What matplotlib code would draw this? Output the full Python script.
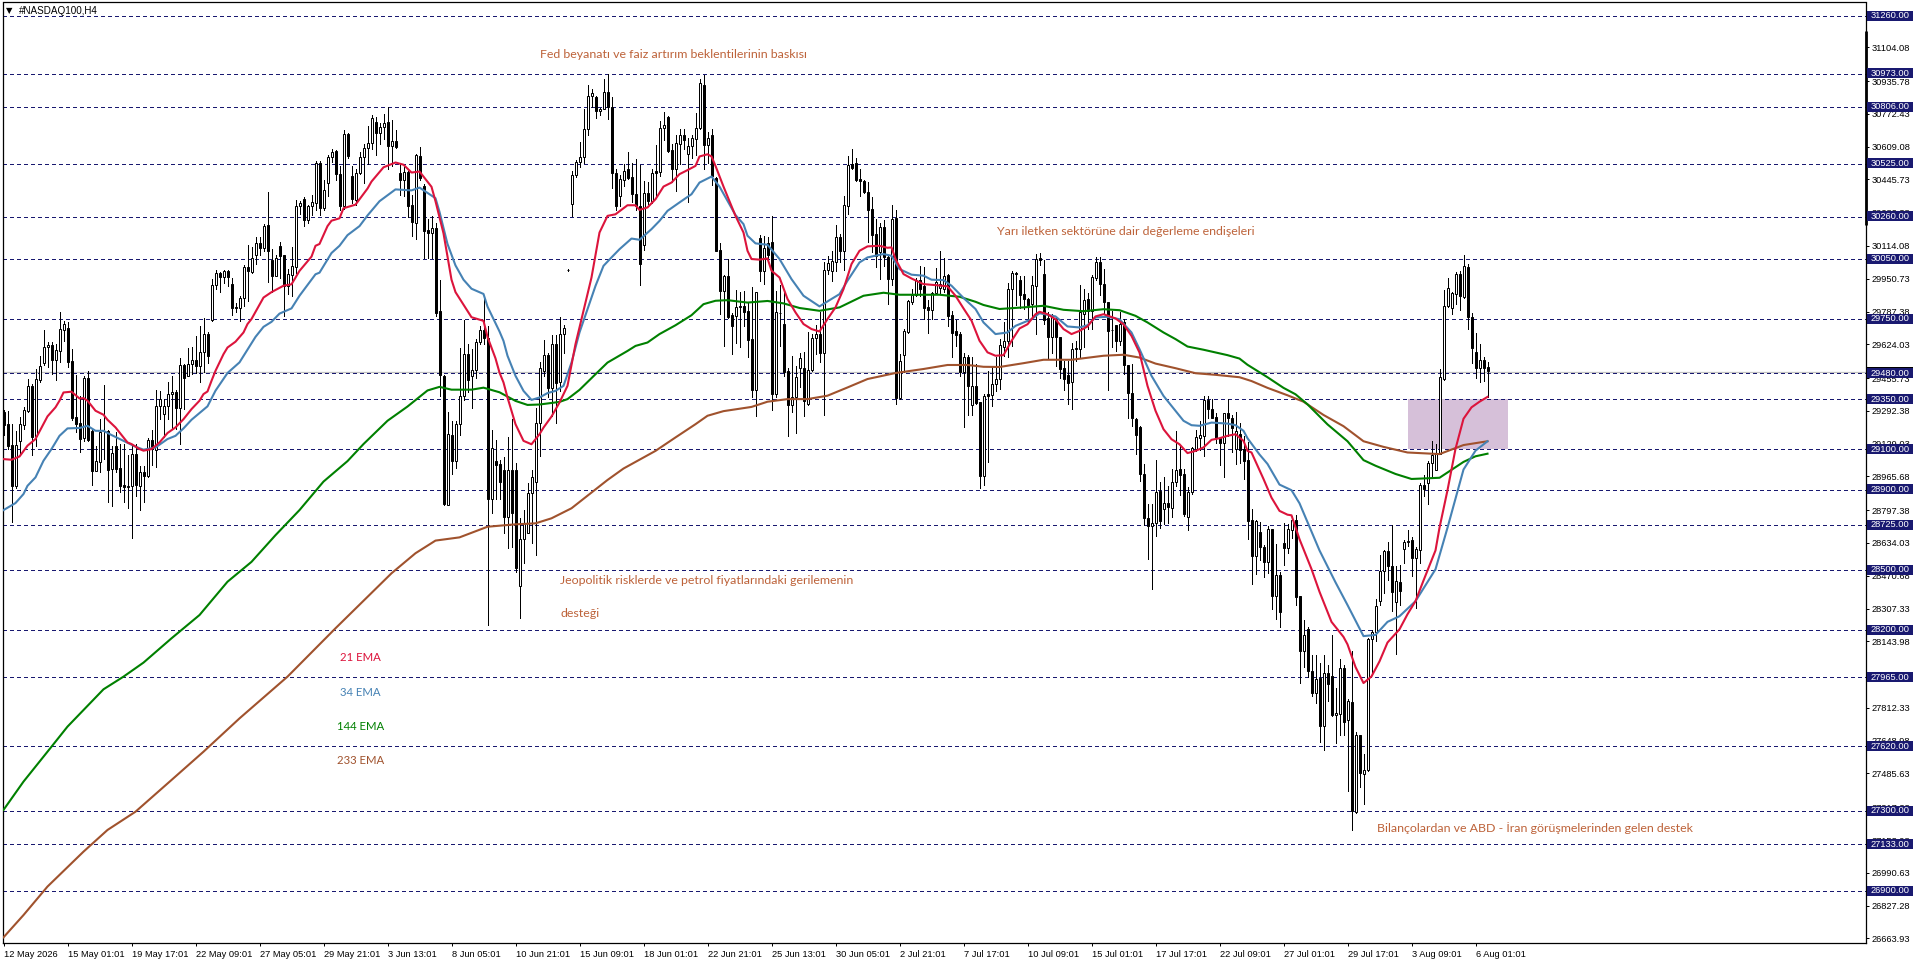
import matplotlib
matplotlib.use('Agg')
import matplotlib.pyplot as plt
from matplotlib.patches import Rectangle

# H4 candles
opens = [
    29285, 29227, 29122, 28919, 29143, 29223, 29293, 29418, 29165, 29446, 29530, 29609, 29620, 29547, 29592, 29697,
    29703, 29539, 29260, 29232, 29155, 29454, 29193, 28994, 29039, 29190, 29193, 29002, 29115, 29006, 28921, 28914,
    28916, 29075, 28919, 28986, 28969, 29145, 29099, 29315, 29275, 29318, 29374, 29384, 29305, 29521, 29467, 29527,
    29547, 29517, 29587, 29673, 29746, 29922, 29977, 29957, 29987, 29927, 29808, 29803, 29853, 30007,
    29985, 30070, 30129, 30106, 30218, 30044, 29964, 30113, 30067, 29916, 29969, 30008, 30311, 30346, 30245, 30311,
    30328, 30528, 30305, 30426, 30555, 30587, 30471, 30311, 30672, 30462, 30341, 30480, 30555, 30601, 30626, 30734,
    30679, 30708, 30733, 30610, 30635, 30476, 30444, 30485, 30316, 30231, 30563, 30412, 30193, 30181, 30204, 29789,
    29465, 28824, 29171, 29043, 29225, 29367, 29576, 29465, 29497, 29634, 29697, 29657, 28851, 29045, 29029,
    28998, 28762, 28998, 28998, 28421, 28652, 28686, 28882, 28940, 29234, 29492, 29570, 29405, 29625, 29434, 29675,
    29993, 30324, 30467, 30533, 30555, 30699, 30859, 30855, 30787, 30799, 30879, 30809, 30480, 30361, 30444, 30497,
    30457, 30375, 30314, 30120, 30380, 30339, 30487, 30483, 30703, 30759, 30591, 30497, 30621, 30668, 30571, 30610,
    30646, 30704, 30915, 30616, 30666, 30455, 30095, 29890, 29962, 29769, 29766, 29809, 29816, 29789,
    29650, 29398, 30154, 29991, 30129, 30132, 29376, 29780, 29725, 29492, 29321, 29360, 29504, 29507, 29326, 29497,
    29654, 29675, 29579, 29996, 29991, 30036, 30157, 30090, 30315, 30522, 30527, 30448, 30439, 30384, 30298, 30173,
    30082, 30207, 30057, 29949, 30253, 29355, 29572, 29685, 29833, 29869, 29944, 29916, 29808, 29795, 29879, 29903,
    29899, 29969, 29770, 29692, 29675, 29487, 29559, 29323, 29414, 29335, 28969, 29375, 29373, 29426, 29451,
    29613, 29641, 29902, 29979, 29945, 29874, 29852, 29824, 29915, 30052, 29974, 29753, 29661, 29749, 29658, 29504,
    29472, 29434, 29600, 29600, 29774, 29849, 29791, 29952, 30035, 29924, 29836, 29695, 29719, 29641, 29733, 29520,
    29379, 29254, 29210, 28977, 28761, 28720, 28736, 28891, 28803, 28831, 28809, 28940, 29002, 28977, 28766, 28886,
    29102, 29158, 29168, 29347, 29301, 29264, 29156, 29131, 29281, 29259, 29102, 29176, 29102, 29047,
    28747, 28569, 28691, 28616, 28537, 28706, 28369, 28475, 28635, 28607, 28700, 28747, 28369, 28095, 28207, 27997,
    27889, 27960, 27720, 27988, 27973, 27776, 27782, 28012, 27750, 27842, 27294, 27679, 27484, 27503, 28157, 28189,
    28344, 28494, 28592, 28519, 28339, 28442, 28603, 28639, 28648, 28560, 28601, 28925, 28935, 29032, 29000, 29079,
    29450, 29816, 29806, 29876, 29975, 29859, 30007, 29760, 29587, 29508, 29546, 29512,
]
closes = [
    29222, 29119, 28919, 29122, 29227, 29295, 29414, 29160, 29451, 29514, 29609, 29619, 29547, 29595, 29700, 29725,
    29537, 29256, 29227, 29152, 29454, 29148, 28994, 29042, 29185, 29193, 28999, 29082, 29002, 28919, 28914, 28918,
    29075, 28923, 28986, 28969, 29145, 29102, 29315, 29354, 29318, 29374, 29384, 29305, 29521, 29454, 29524, 29544,
    29517, 29584, 29673, 29564, 29922, 29977, 29957, 29987, 29961, 29806, 29803, 29853, 30007, 29987,
    30056, 30127, 30106, 30216, 30088, 29964, 30053, 30065, 29916, 29972, 30012, 30311, 30327, 30245, 30311, 30332,
    30528, 30305, 30394, 30555, 30583, 30471, 30311, 30670, 30560, 30346, 30480, 30555, 30601, 30626, 30752, 30679,
    30708, 30729, 30610, 30635, 30608, 30444, 30483, 30314, 30234, 30565, 30453, 30190, 30181, 30202, 29782, 29469,
    28828, 29177, 29042, 29225, 29367, 29576, 29444, 29497, 29634, 29693, 29657, 28851, 29106, 29024, 28940,
    28765, 28998, 28782, 28508, 28652, 28735, 28882, 28965, 29231, 29508, 29570, 29405, 29625, 29430, 29675, 29703,
    29992, 30470, 30533, 30555, 30699, 30859, 30874, 30787, 30799, 30879, 30809, 30480, 30314, 30447, 30490, 30454,
    30372, 30311, 30025, 30380, 30337, 30480, 30477, 30704, 30716, 30588, 30497, 30626, 30666, 30643, 30610, 30650,
    30704, 30925, 30616, 30650, 30463, 30091, 29890, 29962, 29761, 29713, 29812, 29816, 29786, 29646,
    29398, 29883, 29991, 30102, 30069, 29376, 29783, 29780, 29487, 29321, 29360, 29459, 29554, 29340, 29497, 29654,
    29673, 29579, 29996, 30027, 30037, 30157, 30090, 30318, 30519, 30502, 30444, 30439, 30384, 30295, 30168, 30062,
    30207, 30057, 29949, 30248, 29355, 29541, 29688, 29840, 29869, 29944, 29899, 29805, 29795, 29879, 29933, 29924,
    29962, 29766, 29680, 29670, 29487, 29559, 29418, 29414, 29331, 28969, 29368, 29368, 29424, 29451, 29620,
    29643, 29902, 29977, 29972, 29871, 29849, 29821, 29919, 30048, 30045, 29746, 29661, 29763, 29658, 29500, 29450,
    29430, 29600, 29605, 29783, 29846, 29791, 29957, 30035, 29924, 29836, 29691, 29695, 29641, 29724, 29520, 29379,
    29256, 29173, 28977, 28761, 28720, 28734, 28886, 28744, 28831, 28814, 28940, 28997, 28974, 28778, 28886, 29105,
    29160, 29171, 29347, 29301, 29259, 29156, 29131, 29281, 29256, 29205, 29193, 29098, 29043, 28744,
    28569, 28744, 28612, 28537, 28704, 28372, 28475, 28288, 28607, 28704, 28747, 28363, 28095, 28176, 27997, 27889,
    27954, 27720, 27988, 27932, 27778, 27787, 28012, 27744, 27847, 27300, 27679, 27486, 27503, 28157, 28189, 28322,
    28494, 28592, 28519, 28391, 28444, 28395, 28639, 28642, 28560, 28605, 28925, 28903, 29034, 29070, 29079, 29460,
    29816, 29906, 29881, 29975, 29863, 30013, 29760, 29606, 29508, 29548, 29508, 29493,
]
highs = [
    29296, 29293, 29227, 29193, 29260, 29310, 29451, 29426, 29501, 29567, 29695, 29637, 29637, 29625, 29783, 29741,
    29733, 29600, 29471, 29368, 29464, 29489, 29202, 29119, 29251, 29421, 29197, 29119, 29185, 29127, 29127, 29072,
    29127, 29127, 29019, 29016, 29155, 29197, 29396, 29393, 29351, 29437, 29464, 29396, 29554, 29526, 29604, 29609,
    29667, 29713, 29753, 29687, 29949, 29992, 29986, 29994, 29992, 29952, 29829, 29866, 30019, 30118,
    30110, 30159, 30159, 30222, 30382, 30097, 30070, 30136, 30070, 29999, 30111, 30341, 30337, 30359, 30320, 30369,
    30537, 30537, 30444, 30569, 30595, 30590, 30515, 30693, 30679, 30515, 30498, 30583, 30622, 30711, 30765, 30756,
    30729, 30773, 30809, 30741, 30693, 30524, 30506, 30489, 30369, 30572, 30608, 30423, 30248, 30263, 30231, 29942,
    29469, 29287, 29243, 29243, 29604, 29745, 29625, 29599, 29652, 29714, 29848, 29714, 29198, 29145, 29047,
    29064, 29160, 29251, 29031, 28757, 28799, 28931, 28998, 29305, 29537, 29646, 29583, 29670, 29670, 29758, 29719,
    29997, 30488, 30543, 30630, 30799, 30915, 30895, 30862, 30804, 30945, 30973, 30854, 30497, 30467, 30522, 30583,
    30527, 30547, 30517, 30439, 30434, 30500, 30616, 30738, 30784, 30762, 30621, 30666, 30696, 30699, 30654, 30666,
    30779, 30948, 30965, 30683, 30699, 30460, 30131, 29969, 30048, 29782, 29895, 29885, 29890, 29836,
    29908, 29886, 30168, 30165, 30157, 30261, 29891, 29919, 29896, 29504, 29564, 29517, 29580, 29587, 29683, 29675,
    29720, 29783, 30036, 30065, 30090, 30218, 30173, 30364, 30560, 30597, 30550, 30497, 30444, 30434, 30356, 30248,
    30228, 30243, 30065, 30320, 30293, 29575, 29700, 29846, 29899, 29953, 30016, 30007, 29846, 29886, 30002, 30090,
    30052, 29974, 29791, 29747, 29687, 29580, 29570, 29559, 29526, 29335, 29376, 29492, 29514, 29559, 29650,
    29736, 29932, 29990, 29985, 29962, 29962, 29857, 29965, 30073, 30078, 30045, 29783, 29774, 29758, 29658, 29542,
    29542, 29633, 29641, 29920, 29899, 29879, 29969, 30057, 30057, 29999, 29836, 29791, 29719, 29783, 29749, 29520,
    29525, 29259, 29218, 29027, 28828, 28828, 29047, 28939, 28965, 28919, 29002, 29190, 29122, 29002, 28911, 29110,
    29196, 29243, 29364, 29364, 29351, 29284, 29160, 29284, 29351, 29271, 29288, 29231, 29168, 29135,
    28804, 28751, 28738, 28625, 28719, 28706, 28631, 28489, 28732, 28729, 28770, 28775, 28372, 28251, 28213, 28076,
    28076, 28035, 28076, 28026, 28176, 27913, 28054, 28026, 27857, 28095, 27694, 27679, 27585, 28161, 28200, 28354,
    28575, 28597, 28639, 28725, 28519, 28522, 28650, 28700, 28663, 28616, 28931, 28972, 29043, 29141, 29126, 29501,
    29896, 29953, 29887, 29985, 29988, 30071, 30026, 29778, 29679, 29625, 29563, 29535,
]
lows = [
    29172, 29102, 28740, 28909, 29072, 29202, 29285, 29072, 29119, 29437, 29522, 29509, 29476, 29446, 29534, 29642,
    29512, 29246, 29185, 29089, 29143, 29143, 28923, 28994, 28989, 29052, 28840, 28816, 28989, 28886, 28840, 28806,
    28660, 28869, 28800, 28840, 28961, 29022, 29011, 29251, 29160, 29251, 29202, 29202, 29127, 29301, 29467, 29476,
    29481, 29437, 29484, 29530, 29741, 29899, 29886, 29932, 29913, 29770, 29783, 29741, 29813, 29841,
    29981, 30026, 30070, 30088, 29933, 29883, 29964, 29955, 29764, 29875, 29866, 29981, 30275, 30213, 30227, 30266,
    30293, 30270, 30293, 30361, 30530, 30444, 30293, 30298, 30551, 30328, 30320, 30471, 30426, 30524, 30595, 30569,
    30622, 30649, 30498, 30515, 30604, 30369, 30364, 30257, 30163, 30150, 30444, 30053, 30053, 30053, 29764, 29367,
    28821, 28824, 28976, 29006, 29171, 29349, 29385, 29305, 29456, 29625, 29625, 28225, 28785, 28851, 28851,
    28682, 28607, 28616, 28491, 28262, 28533, 28686, 28632, 28574, 29068, 29467, 29359, 29268, 29234, 29392, 29583,
    29990, 30261, 30460, 30510, 30527, 30669, 30809, 30751, 30766, 30796, 30746, 30402, 30294, 30314, 30414, 30450,
    30331, 30294, 29920, 30095, 30322, 30327, 30351, 30463, 30643, 30580, 30434, 30389, 30522, 30596, 30334, 30550,
    30566, 30696, 30500, 30527, 30417, 30091, 29774, 29616, 29753, 29575, 29633, 29613, 29716, 29563,
    29360, 29265, 29941, 29924, 30049, 29298, 29360, 29617, 29464, 29165, 29285, 29182, 29409, 29268, 29321, 29492,
    29575, 29534, 29273, 29974, 29941, 29991, 30032, 29996, 30273, 30497, 30440, 30364, 30380, 30132, 30082, 30007,
    29949, 30012, 29825, 29919, 29326, 29350, 29484, 29682, 29825, 29866, 29866, 29750, 29680, 29750, 29875, 29874,
    29885, 29717, 29559, 29617, 29467, 29210, 29272, 29272, 29326, 28909, 28923, 29036, 29318, 29393, 29401,
    29567, 29563, 29616, 29819, 29807, 29799, 29736, 29766, 29675, 30018, 29724, 29550, 29580, 29517, 29454, 29397,
    29326, 29301, 29542, 29563, 29613, 29700, 29700, 29945, 29869, 29774, 29397, 29613, 29592, 29620, 29475, 29256,
    29218, 29077, 28944, 28723, 28553, 28404, 28670, 28711, 28728, 28736, 28766, 28919, 28872, 28769, 28700, 28880,
    29093, 29098, 29065, 29259, 29255, 29131, 29022, 28962, 29168, 29085, 29027, 29032, 28952, 28656,
    28429, 28481, 28550, 28466, 28485, 28307, 28254, 28213, 28522, 28582, 28657, 28326, 27937, 28016, 27964, 27870,
    27838, 27641, 27604, 27847, 27772, 27638, 27679, 27679, 27398, 27205, 27290, 27420, 27332, 27500, 27988, 28144,
    28326, 28387, 28451, 28294, 28082, 28326, 28535, 28620, 28470, 28312, 28532, 28869, 28826, 28957, 29000, 29075,
    29445, 29810, 29775, 29825, 29793, 29855, 29700, 29531, 29456, 29437, 29441, 29362,
]

# moving averages, picked along each curve: bar number and price
ema21_bars = [0, 2, 4, 6, 8, 10, 11, 13, 14, 15, 17, 19, 20, 21, 23, 25, 26, 28, 30, 31, 32, 34, 35, 37, 39, 41, 43, 45, 47, 49, 50, 51, 52, 53, 55, 56, 58, 60, 61,
              62, 63, 65, 67, 70, 72, 74, 77, 78, 79, 81, 82, 84, 85, 88, 91, 92, 95, 98, 100, 102, 104, 107, 108, 110, 112, 113, 115, 117, 120, 121, 123, 124,
              125, 126, 128, 130, 132, 134, 135, 137, 139, 141, 143, 145, 147, 149, 151, 153, 156, 158, 159, 161, 163, 165, 167, 169, 171, 173, 174, 176, 177, 178, 180, 183, 185, 186,
              187, 189, 191, 192, 194, 196, 198, 200, 202, 204, 206, 208, 210, 212, 214, 216, 219, 221, 222, 223, 225, 227, 230, 233, 236, 238, 240, 242, 244, 246, 248,
              250, 252, 254, 256, 258, 259, 261, 263, 265, 267, 269, 271, 273, 275, 278, 280, 282, 284, 286, 288, 290, 292, 294, 296, 298, 300, 302, 304, 306, 308, 310, 311,
              312, 315, 317, 319, 321, 322, 324, 327, 329, 332, 335, 336, 338, 340, 342, 344, 346, 349, 351, 353, 355, 358, 359, 361, 363, 365, 367, 369, 371]
ema21_vals = [29052, 29049, 29065, 29119, 29152, 29227, 29265, 29310, 29343, 29384, 29388, 29354, 29356, 29343, 29293, 29273, 29248, 29210, 29160, 29135, 29127, 29102, 29094, 29102, 29135, 29182, 29210, 29251, 29301, 29343, 29376, 29389, 29442, 29492, 29575, 29608, 29637, 29683, 29725,
              29750, 29786, 29857, 29884, 29916, 29923, 29990, 30061, 30115, 30124, 30213, 30240, 30252, 30302, 30320, 30400, 30435, 30506, 30530, 30519, 30480, 30485, 30409, 30337, 30177, 29946, 29884, 29821, 29759, 29741, 29661, 29554, 29483,
              29434, 29359, 29226, 29143, 29126, 29176, 29209, 29264, 29334, 29417, 29625, 29791, 29957, 30181, 30264, 30272, 30317, 30317, 30294, 30306, 30347, 30410, 30430, 30472, 30492, 30513, 30560, 30571, 30560, 30513, 30410, 30264, 30181, 30090,
              30049, 30046, 30052, 29991, 29957, 29850, 29783, 29725, 29700, 29688, 29750, 29808, 29899, 30024, 30090, 30112, 30115, 30105, 30107, 30049, 29974, 29952, 29924, 29919, 29913, 29866, 29803, 29742, 29642, 29584, 29567,
              29570, 29641, 29703, 29724, 29774, 29786, 29774, 29749, 29700, 29675, 29691, 29713, 29763, 29774, 29753, 29724, 29666, 29583, 29417, 29293, 29201, 29151, 29126, 29082, 29093, 29110, 29148, 29156, 29168, 29176, 29143, 29093,
              29085, 28953, 28860, 28794, 28775, 28772, 28653, 28504, 28391, 28241, 28166, 28129, 28016, 27936, 27969, 28044, 28138, 28204, 28279, 28344, 28447, 28597, 28710, 28897, 29103, 29253, 29310, 29338, 29362]

ema34_bars = [0, 3, 5, 6, 8, 10, 12, 14, 16, 19, 21, 23, 25, 27, 30, 33, 35, 38, 41, 43, 45, 47, 50, 51, 53, 56, 59, 61,
              63, 65, 67, 69, 72, 74, 78, 79, 82, 84, 86, 89, 91, 94, 98, 102, 104, 108, 109, 111, 113, 115, 117, 120, 121, 124,
              125, 126, 128, 130, 132, 134, 136, 138, 140, 142, 144, 146, 148, 150, 152, 154, 157, 159, 162, 164, 166, 169, 172, 174, 177, 179, 181, 183, 185, 186,
              188, 191, 194, 197, 200, 204, 207, 209, 211, 214, 216, 220, 222, 224, 227, 230, 232, 235, 237, 240, 243, 245, 248,
              251, 253, 257, 259, 263, 266, 269, 271, 273, 276, 279, 282, 284, 287, 290, 293, 295, 297, 299, 302, 306, 308, 310, 311,
              314, 316, 319, 322, 324, 329, 333, 336, 340, 343, 346, 349, 353, 358, 361, 365, 368, 371]
ema34_vals = [28798, 28833, 28878, 28919, 28961, 29044, 29102, 29168, 29205, 29207, 29218, 29193, 29193, 29172, 29143, 29114, 29099, 29110, 29152, 29168, 29205, 29248, 29298, 29315, 29393, 29481, 29534, 29597,
              29661, 29711, 29736, 29777, 29803, 29866, 29973, 29981, 30079, 30115, 30168, 30213, 30266, 30337, 30396, 30391, 30405, 30352, 30284, 30124, 30017, 29946, 29901, 29875, 29812, 29688,
              29641, 29567, 29467, 29392, 29347, 29359, 29381, 29392, 29417, 29533, 29683, 29799, 29915, 30015, 30057, 30098, 30151, 30145, 30198, 30239, 30289, 30331, 30372, 30430, 30460, 30410, 30339, 30268, 30223, 30165,
              30127, 30120, 30049, 29949, 29866, 29813, 29850, 29874, 29941, 30032, 30057, 30074, 30065, 29999, 29971, 29966, 29946, 29944, 29916, 29855, 29800, 29733, 29675,
              29683, 29716, 29749, 29779, 29763, 29713, 29708, 29719, 29758, 29761, 29749, 29683, 29600, 29467, 29367, 29293, 29243, 29221, 29218, 29234, 29229, 29221, 29193, 29156,
              29075, 29028, 28925, 28897, 28832, 28597, 28438, 28325, 28170, 28176, 28241, 28269, 28344, 28503, 28710, 29000, 29094, 29141]

ema144_bars = [0, 5, 12, 16, 25, 30, 35, 42, 49, 56, 62, 68, 74, 80, 86, 90, 96, 101, 106, 109, 112, 117, 120, 124,
               128, 131, 134, 139, 141, 144, 148, 151, 156, 158, 161, 164, 168, 172, 175, 178, 181, 186,
               191, 195, 199, 204, 209, 215, 220, 224, 234, 239, 243, 245, 249,
               255, 260, 265, 270, 275, 279, 283, 286, 290, 293, 296, 300, 306, 309, 311,
               316, 320, 323, 326, 331, 336, 340, 343, 348, 352, 359, 365, 368, 371]
ema144_vals = [27304, 27445, 27619, 27719, 27905, 27968, 28038, 28159, 28275, 28441, 28540, 28673, 28798, 28940, 29042, 29127, 29243, 29314, 29394, 29412, 29398, 29398, 29408, 29385,
               29342, 29322, 29324, 29337, 29351, 29397, 29475, 29533, 29591, 29616, 29633, 29675, 29719, 29769, 29824, 29841, 29844, 29832,
               29840, 29828, 29805, 29791, 29808, 29866, 29881, 29871, 29871, 29861, 29836, 29820, 29800,
               29808, 29816, 29796, 29789, 29799, 29794, 29766, 29733, 29683, 29650, 29613, 29597, 29570, 29553, 29522,
               29460, 29407, 29375, 29325, 29225, 29141, 29047, 29019, 28978, 28953, 28959, 29038, 29066, 29079]

ema233_bars = [0, 5, 11, 20, 26, 33, 42, 50, 59, 71, 83, 97, 103, 108, 114, 121, 128, 133, 137, 142, 151,
               155, 160, 163, 168, 173, 176, 180, 187,
               191, 196, 201, 206, 211, 216, 223, 230, 236, 241, 245, 249,
               255, 260, 267, 275, 280, 284, 288, 293, 298, 303, 309, 312,
               316, 321, 325, 330, 335, 340, 345, 351, 359, 365, 371]
ema233_vals = [26669, 26780, 26922, 27096, 27204, 27295, 27453, 27594, 27760, 27968, 28209, 28483, 28583, 28646, 28662, 28715, 28727, 28732, 28757, 28807, 28948,
               29005, 29060, 29093, 29160, 29226, 29268, 29291, 29312,
               29338, 29351, 29351, 29368, 29409, 29451, 29481, 29501, 29521, 29521, 29512, 29511,
               29530, 29547, 29547, 29567, 29572, 29558, 29528, 29505, 29480, 29472, 29460, 29441,
               29407, 29370, 29338, 29272, 29216, 29141, 29113, 29085, 29077, 29122, 29141]

# horizontal levels drawn by the analyst, also shown as boxes on the price scale
levels = [31260, 30973, 30806, 30525, 30260, 30050, 29750, 29480, 29350, 29100, 28900, 28725, 28500, 28200, 27965, 27620, 27300, 27133, 26900]
bid_price = 29488

price_ticks = [31104.08, 30935.78, 30772.43, 30609.08, 30445.73, 30282.38, 30114.08, 29950.73, 29787.38, 29624.03, 29455.73, 29292.38, 29129.03, 28965.68,
               28797.38, 28634.03, 28470.68, 28307.33, 28143.98, 27980.63, 27812.33, 27648.98, 27485.63, 27317.33, 27153.98, 26990.63, 26827.28, 26663.93]
time_labels = ['12 May 2026', '15 May 01:01', '19 May 17:01', '22 May 09:01', '27 May 05:01', '29 May 21:01', '3 Jun 13:01', '8 Jun 05:01',
               '10 Jun 21:01', '15 Jun 09:01', '18 Jun 01:01', '22 Jun 21:01', '25 Jun 13:01', '30 Jun 05:01', '2 Jul 21:01', '7 Jul 17:01',
               '10 Jul 09:01', '15 Jul 01:01', '17 Jul 17:01', '22 Jul 09:01', '27 Jul 01:01', '29 Jul 17:01', '3 Aug 09:01', '6 Aug 01:01']

NAVY = '#191970'
NOTE = '#bd6239'
EMA_COLORS = {'21': '#dc143c', '34': '#4682b4', '144': '#008000', '233': '#a0522d'}
SCALE_FONT = 'Liberation Sans'
SCALE_SIZE = 6.7
NOTE_FONT = 'Lato'
NOTE_SIZE = 8.95

plt.rcParams['lines.scale_dashes'] = False

W, H = 1916, 963
L, R, T, B = 2.5, 1865.5, 2.5, 942.5
fig = plt.figure(figsize=(W / 100, H / 100), dpi=100, facecolor='white')
ax = fig.add_axes([L / W, (H - B) / H, (R - L) / W, (B - T) / H])

# one bar is 4 pixels wide, one pixel is 4.983 points
ax.set_xlim((L - 3.5) / 4, (R - 3.5) / 4)
ax.set_ylim(31260 - (B - 16) * 4.983, 31260 + (16 - T) * 4.983)

trans = ax.get_yaxis_transform()

# buy zone
ax.add_patch(Rectangle((351, 29100), 25, 250, facecolor='#d6c0d9', edgecolor='none', zorder=1))

for lv in levels:
    ax.axhline(lv, color=NAVY, lw=0.72, ls=(0, (2.16, 2.16)), antialiased=False, zorder=2)
ax.axhline(bid_price, color='#c0c0c0', lw=0.9, zorder=1.5)

# candles
bars = list(range(len(opens)))
ax.vlines(bars, lows, highs, color='black', lw=0.72, antialiased=False, zorder=3)
for i in bars:
    up = closes[i] >= opens[i]
    ax.bar(i, abs(closes[i] - opens[i]), bottom=min(opens[i], closes[i]), width=0.5,
           facecolor='white' if up else 'black', edgecolor='black', linewidth=0.72, zorder=4)

ax.plot(ema233_bars, ema233_vals, color=EMA_COLORS['233'], lw=1.5, zorder=5)
ax.plot(ema144_bars, ema144_vals, color=EMA_COLORS['144'], lw=1.5, zorder=5)
ax.plot(ema34_bars, ema34_vals, color=EMA_COLORS['34'], lw=1.5, zorder=5)
ax.plot(ema21_bars, ema21_vals, color=EMA_COLORS['21'], lw=1.5, zorder=5)

# notes on the chart
ax.text(134, 31066, 'Fed beyanatı ve faiz artırım beklentilerinin baskısı', color=NOTE, family=NOTE_FONT, fontsize=NOTE_SIZE, va='center', zorder=6)
ax.text(248.4, 30185, 'Yarı iletken sektörüne dair değerleme endişeleri', color=NOTE, family=NOTE_FONT, fontsize=NOTE_SIZE, va='center', zorder=6)
ax.text(139.2, 28445, 'Jeopolitik risklerde ve petrol fiyatlarındaki gerilemenin', color=NOTE, family=NOTE_FONT, fontsize=NOTE_SIZE, va='center', zorder=6)
ax.text(139.2, 28285, 'desteği', color=NOTE, family=NOTE_FONT, fontsize=NOTE_SIZE, va='center', zorder=6)
ax.text(343.4, 27214, 'Bilançolardan ve ABD - İran görüşmelerinden gelen destek', color=NOTE, family=NOTE_FONT, fontsize=NOTE_SIZE, va='center', zorder=6)
ax.text(89.2, 28062, '21 EMA', color=EMA_COLORS['21'], family=NOTE_FONT, fontsize=8.2, ha='center', va='center', zorder=6)
ax.text(89.2, 27888, '34 EMA', color=EMA_COLORS['34'], family=NOTE_FONT, fontsize=8.2, ha='center', va='center', zorder=6)
ax.text(89.2, 27722, '144 EMA', color=EMA_COLORS['144'], family=NOTE_FONT, fontsize=8.2, ha='center', va='center', zorder=6)
ax.text(89.2, 27548, '233 EMA', color=EMA_COLORS['233'], family=NOTE_FONT, fontsize=8.2, ha='center', va='center', zorder=6)

# price scale
ax.yaxis.tick_right()
ax.set_yticks(price_ticks)
ax.set_yticklabels([f'{p:.2f}' for p in price_ticks], family=SCALE_FONT, fontsize=SCALE_SIZE, color='black')
ax.tick_params(axis='y', length=2.2, width=0.72, pad=2.2, color='black')

# time scale
ax.set_xticks(range(0, len(time_labels) * 16, 16))
ax.set_xticklabels(time_labels, family=SCALE_FONT, fontsize=SCALE_SIZE, ha='left', color='black')
ax.tick_params(axis='x', length=2.2, width=0.72, pad=3, color='black')

for sp in ax.spines.values():
    sp.set_linewidth(0.9)
    sp.set_color('black')

box_x = (1867 - L) / (R - L)
box_w = 46 / (R - L)
box_h = 10 * 4.983

ax.add_patch(Rectangle((box_x, bid_price - box_h / 2), box_w, box_h, transform=trans, facecolor='black', edgecolor='none', clip_on=False, zorder=7))
for lv in levels:
    ax.add_patch(Rectangle((box_x, lv - box_h / 2 + 1), box_w, box_h, transform=trans, facecolor=NAVY, edgecolor='none', clip_on=False, zorder=8))
    ax.text((1871 - L) / (R - L), lv + 1, f'{lv:.2f}', transform=trans, color='white', family=SCALE_FONT, fontsize=SCALE_SIZE, va='center', clip_on=False, zorder=9)

# MT4 leaves a thick stretch on the scale edge
ax.plot([1, 1], [31186, 30218], transform=trans, color='black', lw=2, clip_on=False, solid_capstyle='butt', zorder=7)

# symbol caption
fig.text(6 / W, 1 - 10.8 / H, '▼', family='DejaVu Sans', fontsize=6, va='center', color='black')
fig.text(19 / W, 1 - 10.8 / H, '#NASDAQ100,H4', family=SCALE_FONT, fontsize=SCALE_SIZE + 0.4, va='center', color='black')

fig.savefig('out.png', dpi=100)
